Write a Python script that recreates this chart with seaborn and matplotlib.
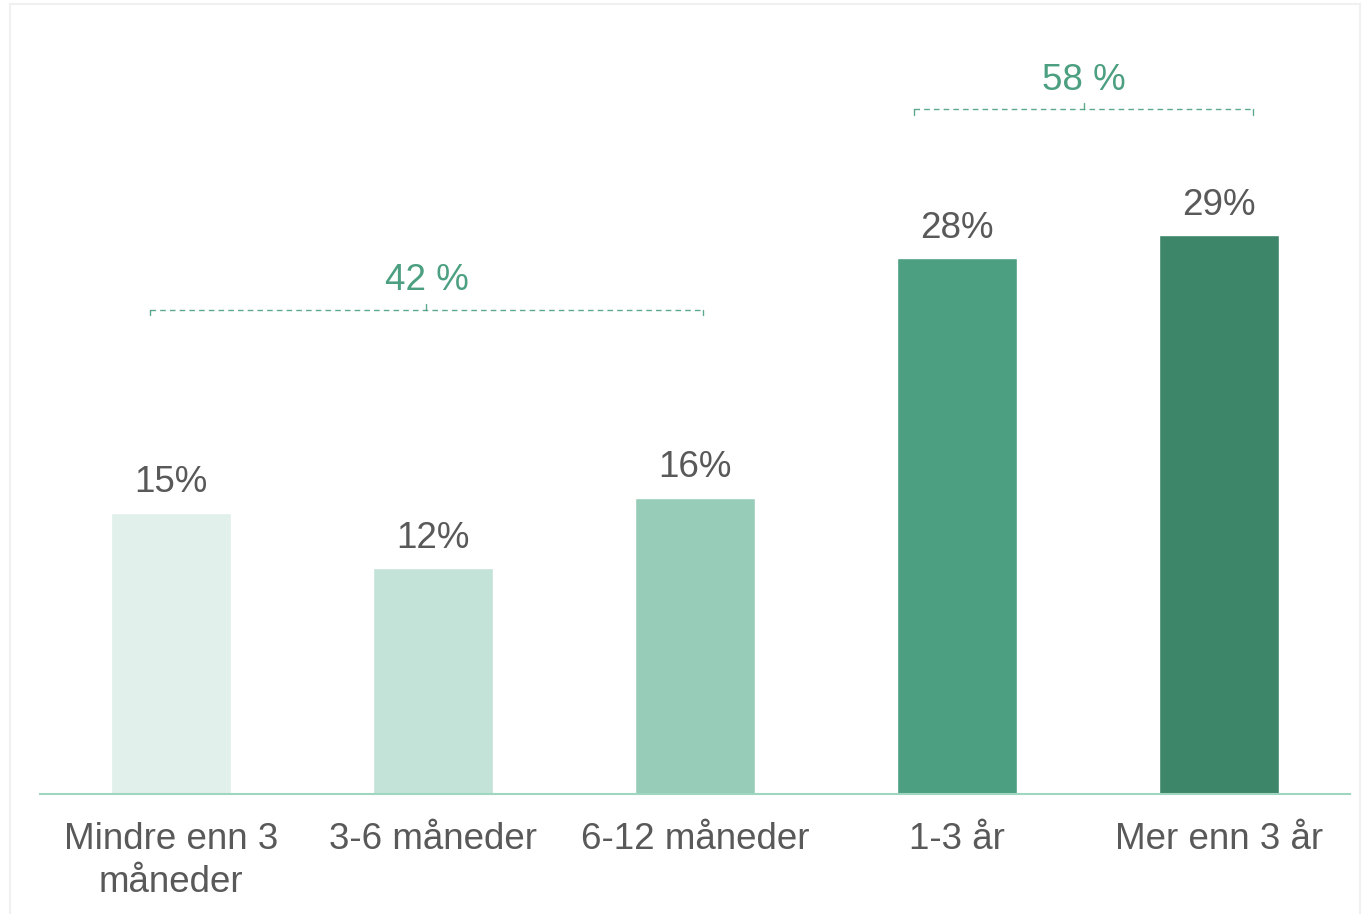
import matplotlib
matplotlib.use("Agg")
import matplotlib.pyplot as plt
import seaborn as sns
import pandas as pd
from matplotlib.patches import Rectangle

categories = ["Mindre enn 3\nmåneder", "3-6 måneder", "6-12 måneder", "1-3 år", "Mer enn 3 år"]
values = [14.8, 11.9, 15.6, 28.2, 29.4]
value_labels = ["15%", "12%", "16%", "28%", "29%"]
bar_colors = ["#E1F0EA", "#C3E3D8", "#97CDB8", "#4C9F80", "#3E8669"]

# groups: (first index, last index, label)
group_first = [0, 3]
group_last = [2, 4]
group_labels = ["42 %", "58 %"]

sns.set_theme(style="white")
plt.rcParams["font.family"] = ["Liberation Sans", "DejaVu Sans"]

df = pd.DataFrame({"cat": categories, "val": values})

fig = plt.figure(figsize=(13.64, 9.14), dpi=100)
ax = fig.add_axes([40 / 1364, 120 / 914, 1310 / 1364, 760 / 914])

sns.barplot(data=df, x="cat", y="val", hue="cat", palette=bar_colors,
            legend=False, width=0.458, saturation=1, ax=ax)

ax.set_xlim(-0.5, 4.5)
ax.set_ylim(0, 40)
for s in ["top", "right", "left"]:
    ax.spines[s].set_visible(False)
ax.spines["bottom"].set_color("#9ED6C0")
ax.spines["bottom"].set_linewidth(1.5)
ax.set_yticks([])
ax.set_xlabel("")
ax.set_ylabel("")
ax.tick_params(axis="x", length=0, pad=20, labelsize=26.5, labelcolor="#595959")
for t in ax.get_xticklabels():
    t.set_linespacing(1.3)

# value labels
for i, (v, lab) in enumerate(zip(values, value_labels)):
    ax.text(i, v + 0.65, lab, ha="center", va="bottom", fontsize=26.5, color="#595959")

# group brackets
green = "#4C9F80"
bracket_y = [25.5, 36.05]
bracket_pad = [(-0.08, 0.03), (-0.164, 0.13)]
for k, (a, b, lab) in enumerate(zip(group_first, group_last, group_labels)):
    y = bracket_y[k]
    x0 = a + bracket_pad[k][0]
    x1 = b + bracket_pad[k][1]
    xm = (x0 + x1) / 2
    ax.plot([x0, x1], [y, y], color=green, lw=1, ls=(0, (4, 3)), alpha=0.9)
    ax.plot([x0, x0], [y, y - 0.3], color=green, lw=1, alpha=0.9)
    ax.plot([x1, x1], [y, y - 0.3], color=green, lw=1, alpha=0.9)
    ax.plot([xm, xm], [y, y + 0.3], color=green, lw=1, alpha=0.9)
    ax.text(xm, y + 1.5, lab, ha="center", va="center", fontsize=26.5, color=green)

fig.patches.append(Rectangle((10 / 1364, -0.01), 1350 / 1364, (914 - 4) / 914 + 0.01,
                             transform=fig.transFigure, fill=False,
                             edgecolor="#F0F0F0", linewidth=1.5, zorder=0))

fig.savefig("out.png", dpi=100, facecolor="white")
